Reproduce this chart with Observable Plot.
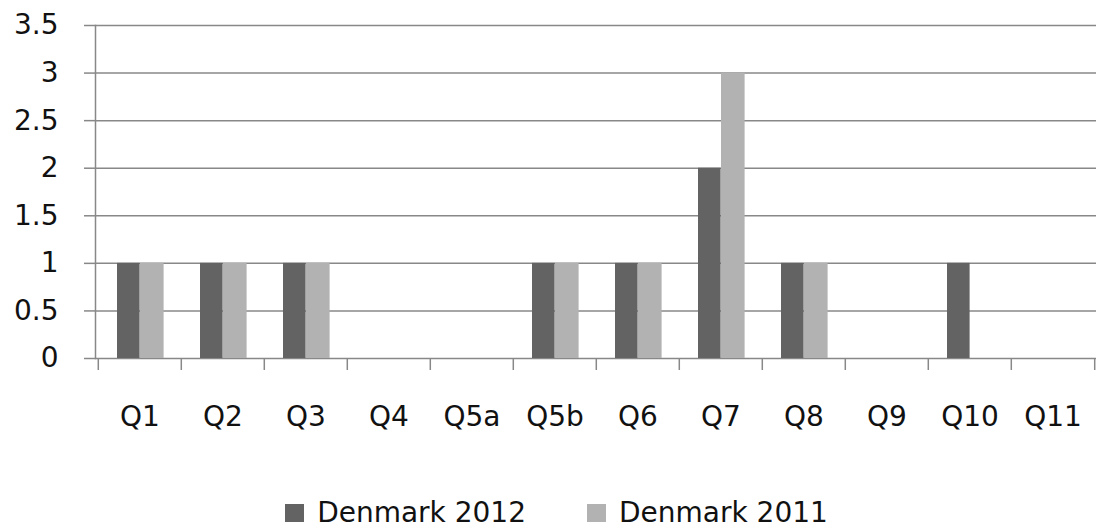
<!DOCTYPE html>
<html>
<head>
<meta charset="utf-8">
<script src="https://cdn.jsdelivr.net/npm/d3@7"></script>
<script src="https://cdn.jsdelivr.net/npm/@observablehq/plot@0.6"></script>
<style>
  html, body { margin: 0; padding: 0; background: #fff; }
  #chart svg { display: block; }
  .legend { display: flex; justify-content: center; align-items: center; gap: 61px; font-family: "DejaVu Sans", sans-serif; font-size: 28px; line-height: 34px; color: #111; margin-top: 36px; padding-left: 16px; }
  .legend span.item { display: flex; align-items: center; }
  .legend i { display: inline-block; width: 19px; height: 18px; margin-right: 13px; }
</style>
</head>
<body>
<div id="chart"></div>
<div class="legend">
  <span class="item"><i style="background:#636363"></i>Denmark 2012</span>
  <span class="item"><i style="background:#b2b2b2"></i>Denmark 2011</span>
</div>
<script>
const categories = ["Q1","Q2","Q3","Q4","Q5a","Q5b","Q6","Q7","Q8","Q9","Q10","Q11"];
const denmark2012 = [1,1,1,0,0,1,1,2,1,0,1,0];
const denmark2011 = [1,1,1,0,0,1,1,3,1,0,0,0];
const yTicks = [0,0.5,1,1.5,2,2.5,3,3.5];

const rows2012 = categories.map((c,i) => ({q: c, v: denmark2012[i]}));
const rows2011 = categories.map((c,i) => ({q: c, v: denmark2011[i]}));

const W = 1097, H = 460, mL = 95, mR = 1;
const half = (W - mL - mR) / categories.length / 2;
const grid = "#888888";

const chart = Plot.plot({
  width: W,
  height: H,
  marginLeft: mL,
  marginRight: mR,
  marginTop: 25,
  marginBottom: 102,
  style: {fontFamily: "DejaVu Sans, sans-serif", fontSize: "28px", color: "#111", background: "#fff"},
  x: {type: "band", domain: categories, padding: 0},
  y: {domain: [0, 3.5]},
  marks: [
    Plot.gridY(yTicks, {stroke: grid, strokeOpacity: 1, strokeWidth: 1.5}),
    Plot.axisY(yTicks, {tickSize: 11, tickPadding: 26, stroke: grid, strokeOpacity: 1, strokeWidth: 1.5, tickFormat: d => String(d), label: null, fill: "#111"}),
    Plot.frame({anchor: "left", stroke: grid, strokeOpacity: 1, strokeWidth: 1.5}),
    Plot.barY(rows2012.filter(d => d.v > 0), {x: "q", y: "v", fill: "#636363", insetLeft: 19, insetRight: 41.4}),
    Plot.barY(rows2011.filter(d => d.v > 0), {x: "q", y: "v", fill: "#b2b2b2", insetLeft: 42, insetRight: 17.4}),
    Plot.axisX(categories, {tickSize: 12, tickFormat: null, dx: -half, stroke: grid, strokeOpacity: 1, strokeWidth: 1.5, label: null}),
    Plot.axisX([categories[categories.length - 1]], {tickSize: 12, tickFormat: null, dx: half, stroke: grid, strokeOpacity: 1, strokeWidth: 1.5, label: null}),
    Plot.axisX(categories, {tickSize: 0, tickPadding: 48, label: null, fill: "#111"})
  ]
});
document.getElementById("chart").appendChild(chart);
</script>
</body>
</html>
